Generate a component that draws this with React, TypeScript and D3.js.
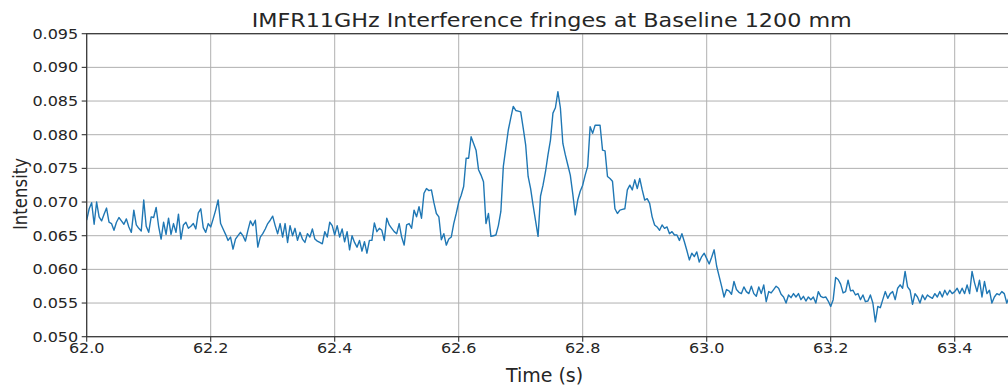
import React from 'react';
import * as d3 from 'd3';

const T0 = 62.0;
const DT = 0.004;

const intensity: number[] = [
  // 62.000 - 62.196
  0.0673, 0.0690, 0.0699, 0.0667, 0.0700, 0.0678, 0.0672, 0.0682, 0.0691, 0.0670,
  0.0668, 0.0658, 0.0670, 0.0677, 0.0672, 0.0667, 0.0675, 0.0663, 0.0655, 0.0688,
  0.0666, 0.0661, 0.0657, 0.0703, 0.0664, 0.0655, 0.0678, 0.0677, 0.0692, 0.0664,
  0.0645, 0.0670, 0.0652, 0.0676, 0.0652, 0.0668, 0.0655, 0.0682, 0.0645, 0.0666,
  0.0670, 0.0661, 0.0664, 0.0668, 0.0660, 0.0684, 0.0690, 0.0662, 0.0655, 0.0668,
  // 62.200 - 62.396
  0.0663, 0.0675, 0.0688, 0.0703, 0.0668, 0.0660, 0.0652, 0.0643, 0.0648, 0.0630,
  0.0645, 0.0650, 0.0655, 0.0650, 0.0642, 0.0658, 0.0672, 0.0665, 0.0673, 0.0633,
  0.0648, 0.0653, 0.0660, 0.0668, 0.0673, 0.0679, 0.0665, 0.0653, 0.0668, 0.0648,
  0.0668, 0.0640, 0.0665, 0.0650, 0.0661, 0.0643, 0.0655, 0.0645, 0.0640, 0.0653,
  0.0648, 0.0660, 0.0645, 0.0642, 0.0640, 0.0638, 0.0656, 0.0648, 0.0670, 0.0665,
  // 62.400 - 62.596
  0.0651, 0.0665, 0.0648, 0.0660, 0.0641, 0.0656, 0.0629, 0.0650, 0.0640, 0.0633,
  0.0643, 0.0627, 0.0641, 0.0624, 0.0643, 0.0643, 0.0669, 0.0656, 0.0661, 0.0658,
  0.0643, 0.0676, 0.0666, 0.0661, 0.0656, 0.0653, 0.0668, 0.0648, 0.0636, 0.0666,
  0.0668, 0.0661, 0.0688, 0.0678, 0.0693, 0.0676, 0.0713, 0.0720, 0.0717, 0.0718,
  0.0699, 0.0683, 0.0678, 0.0644, 0.0653, 0.0636, 0.0645, 0.0648, 0.0668, 0.0683,
  // 62.600 - 62.796
  0.0700, 0.0710, 0.0723, 0.0765, 0.0765, 0.0797, 0.0787, 0.0777, 0.0748, 0.0740,
  0.0730, 0.0668, 0.0683, 0.0649, 0.0650, 0.0651, 0.0665, 0.0686, 0.0753, 0.0780,
  0.0807, 0.0825, 0.0842, 0.0836, 0.0835, 0.0834, 0.0810, 0.0785, 0.0738, 0.0720,
  0.0695, 0.0672, 0.0649, 0.0709, 0.0725, 0.0745, 0.0770, 0.0792, 0.0832, 0.0840,
  0.0864, 0.0840, 0.0787, 0.0770, 0.0755, 0.0740, 0.0712, 0.0681, 0.0703, 0.0716,
  // 62.800 - 62.996
  0.0725, 0.0740, 0.0753, 0.0812, 0.0802, 0.0814, 0.0814, 0.0814, 0.0777, 0.0776,
  0.0738, 0.0735, 0.0731, 0.0690, 0.0683, 0.0688, 0.0689, 0.0690, 0.0718, 0.0725,
  0.0718, 0.0733, 0.0720, 0.0735, 0.0718, 0.0703, 0.0705, 0.0698, 0.0678, 0.0666,
  0.0663, 0.0658, 0.0666, 0.0661, 0.0663, 0.0653, 0.0656, 0.0651, 0.0651, 0.0643,
  0.0653, 0.0641, 0.0628, 0.0614, 0.0624, 0.0619, 0.0626, 0.0611, 0.0619, 0.0624,
  // 63.000 - 63.196
  0.0616, 0.0608, 0.0618, 0.0629, 0.0605, 0.0590, 0.0575, 0.0559, 0.0570, 0.0568,
  0.0563, 0.0582, 0.0570, 0.0566, 0.0564, 0.0574, 0.0567, 0.0564, 0.0575, 0.0564,
  0.0560, 0.0574, 0.0564, 0.0577, 0.0552, 0.0567, 0.0565, 0.0570, 0.0575, 0.0572,
  0.0563, 0.0559, 0.0550, 0.0562, 0.0558, 0.0564, 0.0559, 0.0564, 0.0555, 0.0560,
  0.0553, 0.0559, 0.0555, 0.0559, 0.0550, 0.0567, 0.0560, 0.0558, 0.0559, 0.0553,
  // 63.200 - 63.396
  0.0545, 0.0555, 0.0588, 0.0585, 0.0578, 0.0565, 0.0567, 0.0584, 0.0568, 0.0569,
  0.0562, 0.0564, 0.0555, 0.0562, 0.0552, 0.0553, 0.0562, 0.0550, 0.0522, 0.0545,
  0.0543, 0.0555, 0.0567, 0.0557, 0.0564, 0.0567, 0.0555, 0.0572, 0.0577, 0.0572,
  0.0597, 0.0574, 0.0569, 0.0548, 0.0564, 0.0559, 0.0550, 0.0562, 0.0555, 0.0562,
  0.0559, 0.0557, 0.0564, 0.0559, 0.0567, 0.0559, 0.0569, 0.0562, 0.0569, 0.0564,
  // 63.400 - 63.488
  0.0567, 0.0572, 0.0564, 0.0572, 0.0564, 0.0577, 0.0564, 0.0597, 0.0580, 0.0567,
  0.0584, 0.0559, 0.0582, 0.0564, 0.0569, 0.0550, 0.0559, 0.0564, 0.0562, 0.0567,
  0.0564, 0.0550, 0.0559,
];

const xTicks = [62.0, 62.2, 62.4, 62.6, 62.8, 63.0, 63.2, 63.4];
const yTicks = [0.05, 0.055, 0.06, 0.065, 0.07, 0.075, 0.08, 0.085, 0.09, 0.095];
const titleText = 'IMFR11GHz Interference fringes at Baseline 1200 mm';
const xLabelText = 'Time (s)';
const yLabelText = 'Intensity';

const W = 1008;
const H = 389;
const SX = 1.16;
const FONT = "'DejaVu Sans', sans-serif";
const TEXT = '#262626';

export default function App() {
  const left = 86.7;
  const right = 1016.7;
  const top = 33.7;
  const bottom = 336.7;

  const x = d3.scaleLinear().domain([62.0, 63.5]).range([left, right]);
  const y = d3.scaleLinear().domain([0.05, 0.095]).range([bottom, top]);

  const line = d3
    .line<number>()
    .x((_, i) => x(T0 + i * DT))
    .y((d) => y(d));

  return (
    <svg
      width={W}
      height={H}
      style={{ position: 'absolute', left: 0, top: 0, background: '#fff' }}
      fontFamily={FONT}
    >
      <rect x={0} y={0} width={W} height={H} fill="#fff" />
      <defs>
        <clipPath id="plotclip">
          <rect x={left} y={top} width={right - left} height={bottom - top} />
        </clipPath>
      </defs>
      {/* grid */}
      {xTicks.map((t) => (
        <line key={'gx' + t} x1={x(t)} x2={x(t)} y1={top} y2={bottom} stroke="#b0b0b0" strokeWidth={1} />
      ))}
      {yTicks.map((t) => (
        <line key={'gy' + t} x1={left} x2={right} y1={y(t)} y2={y(t)} stroke="#b0b0b0" strokeWidth={1} />
      ))}
      {/* data */}
      <path d={line(intensity) || ''} fill="none" stroke="#1f77b4" strokeWidth={1.4} strokeLinejoin="round" clipPath="url(#plotclip)" />
      {/* spines */}
      <rect x={left} y={top} width={right - left} height={bottom - top} fill="none" stroke="#333" strokeWidth={1.2} />
      {/* ticks */}
      {xTicks.map((t) => (
        <g key={'tx' + t}>
          <line x1={x(t)} x2={x(t)} y1={bottom} y2={bottom + 5} stroke="#333" strokeWidth={1.1} />
          <text
            transform={`translate(${x(t)},${bottom + 16.5}) scale(${SX},1)`}
            textAnchor="middle"
            fontSize={13.8}
            fill={TEXT}
          >
            {t.toFixed(1)}
          </text>
        </g>
      ))}
      {yTicks.map((t) => (
        <g key={'ty' + t}>
          <line x1={left - 5} x2={left} y1={y(t)} y2={y(t)} stroke="#333" strokeWidth={1.1} />
          <text
            transform={`translate(${left - 8.5},${y(t) + 4.9}) scale(${SX},1)`}
            textAnchor="end"
            fontSize={13.8}
            fill={TEXT}
          >
            {t.toFixed(3)}
          </text>
        </g>
      ))}
      {/* title */}
      <text
        transform={`translate(${(left + right) / 2},${27}) scale(${SX},1)`}
        textAnchor="middle"
        fontSize={19.2}
        fill={TEXT}
      >
        {titleText}
      </text>
      {/* x label */}
      <text
        transform={`translate(${544.5},${382})`}
        textAnchor="middle"
        fontSize={19}
        fill={TEXT}
      >
        {xLabelText}
      </text>
      {/* y label */}
      <text
        transform={`translate(${26.5},${194}) scale(1.22,1) rotate(-90)`}
        textAnchor="middle"
        fontSize={16.6}
        fill={TEXT}
      >
        {yLabelText}
      </text>
    </svg>
  );
}
